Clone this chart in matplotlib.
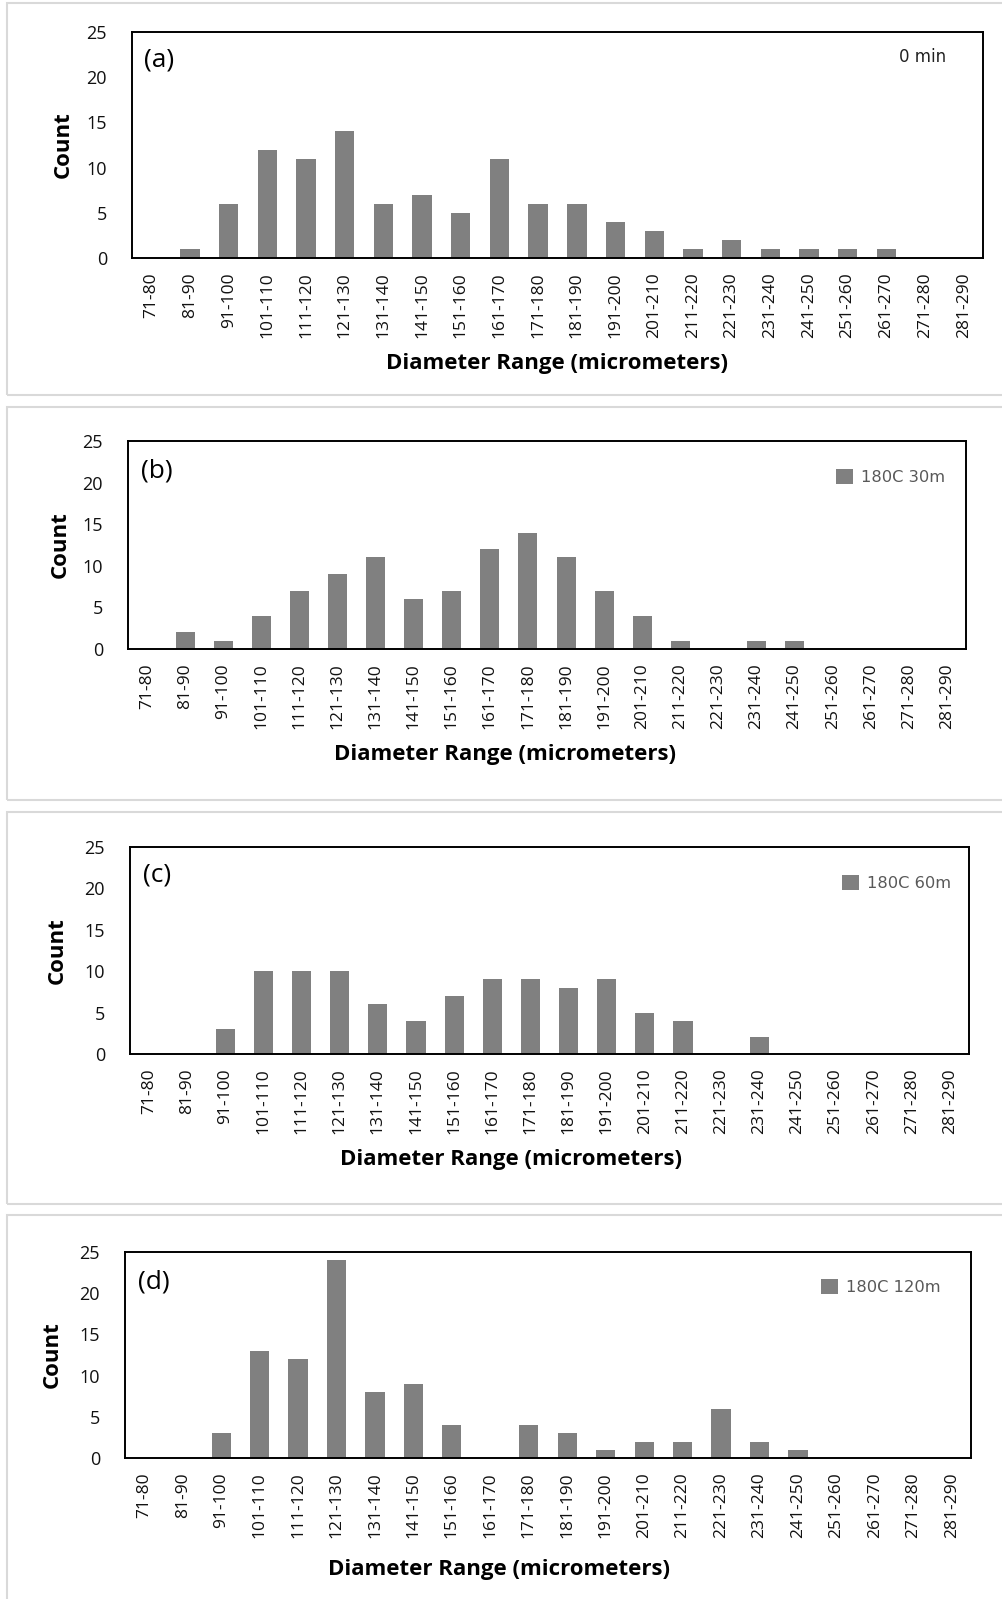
import matplotlib
matplotlib.use("Agg")
import matplotlib.pyplot as plt
from matplotlib.patches import Rectangle

categories = ["71-80", "81-90", "91-100", "101-110", "111-120", "121-130",
              "131-140", "141-150", "151-160", "161-170", "171-180", "181-190",
              "191-200", "201-210", "211-220", "221-230", "231-240", "241-250",
              "251-260", "261-270", "271-280", "281-290"]

counts_a = [0, 1, 6, 12, 11, 14, 6, 7, 5, 11, 6, 6, 4, 3, 1, 2, 1, 1, 1, 1, 0, 0]
counts_b = [0, 2, 1, 4, 7, 9, 11, 6, 7, 12, 14, 11, 7, 4, 1, 0, 1, 1, 0, 0, 0, 0]
counts_c = [0, 0, 3, 10, 10, 10, 6, 4, 7, 9, 9, 8, 9, 5, 4, 0, 2, 0, 0, 0, 0, 0]
counts_d = [0, 0, 3, 13, 12, 24, 8, 9, 4, 0, 4, 3, 1, 2, 2, 6, 2, 1, 0, 0, 0, 0]

panel_labels = ["(a)", "(b)", "(c)", "(d)"]
series_names = ["0 min", "180C 30m", "180C 60m", "180C 120m"]
y_ticks = [0, 5, 10, 15, 20, 25]
x_title = "Diameter Range (micrometers)"
y_title = "Count"

W, H = 1003, 1599
fig = plt.figure(figsize=(W / 100, H / 100), dpi=100)
fig.patch.set_facecolor("white")

# layout in pixel coordinates (left, top, right, bottom)
frames = [(7, 3, 1010, 395), (7, 407, 1010, 800), (7, 812, 1010, 1204), (7, 1215, 1010, 1610)]
axes_boxes = [(132, 32, 983, 258), (128, 441, 966, 649), (130, 847, 969, 1054), (125, 1252, 971, 1458)]
ylabel_x = [63, 60, 57, 52]
xlabel_pos = [(557, 364), (505, 754), (511, 1160), (499, 1570)]
panel_pos = [(159, 60), (157, 471), (157, 875), (154, 1282)]
legend_pos = [None, (836, 477), (842, 883), (821, 1287)]

all_counts = [counts_a, counts_b, counts_c, counts_d]

for fr in frames:
    l, t, r, b = fr
    fig.add_artist(Rectangle((l / W, 1 - b / H), (r - l) / W, (b - t) / H,
                             transform=fig.transFigure, fill=False,
                             edgecolor="#d9d9d9", linewidth=1.5))

for i in range(4):
    l, t, r, b = axes_boxes[i]
    ax = fig.add_axes([l / W, 1 - b / H, (r - l) / W, (b - t) / H])
    x = list(range(len(categories)))
    bars = ax.bar(x, all_counts[i], width=0.5, color="#808080",
                  edgecolor="none", label=series_names[i])
    ax.set_xlim(-0.5, len(categories) - 0.5)
    ax.set_ylim(0, 25)
    ax.set_yticks(y_ticks)
    ax.set_xticks(x)
    ax.set_xticklabels(categories, rotation=90, fontfamily="Open Sans",
                       fontsize=12.5, color="#111111")
    for lab in ax.get_yticklabels():
        lab.set_fontfamily("Open Sans")
        lab.set_fontsize(13)
        lab.set_color("#111111")
    ax.tick_params(axis="y", length=0, pad=18)
    ax.tick_params(axis="x", length=0, pad=10.5)
    for sp in ax.spines.values():
        sp.set_linewidth(1.4)
        sp.set_color("black")

    w = r - l
    h = b - t
    ax.set_ylabel(y_title, fontfamily="Open Sans", fontweight="bold",
                  fontsize=16, va="center", color="black")
    ax.yaxis.set_label_coords((ylabel_x[i] - l) / w, 0.5)
    ax.set_xlabel(x_title, fontfamily="Open Sans", fontweight="bold",
                  fontsize=16, va="center", color="black")
    xl, yl = xlabel_pos[i]
    ax.xaxis.set_label_coords((xl - l) / w, -(yl - b) / h)

    px, py = panel_pos[i]
    fig.text(px / W, 1 - py / H, panel_labels[i], fontfamily="Open Sans",
             fontsize=19, ha="center", va="center", color="black")

    if legend_pos[i] is None:
        fig.text(923 / W, 1 - 57 / H, series_names[i], fontfamily="DejaVu Sans",
                 fontsize=12, ha="center", va="center", color="#222222")
    else:
        lx, ly = legend_pos[i]
        ax.legend(handles=[bars], loc="center left",
                  bbox_to_anchor=(lx / W, 1 - ly / H),
                  bbox_transform=fig.transFigure, frameon=False,
                  borderpad=0, borderaxespad=0, handlelength=1.05,
                  handleheight=1.05, handletextpad=0.5,
                  prop={"family": "DejaVu Sans", "size": 11.7},
                  labelcolor="#595959")

fig.savefig("out.png", dpi=100, facecolor="white")
